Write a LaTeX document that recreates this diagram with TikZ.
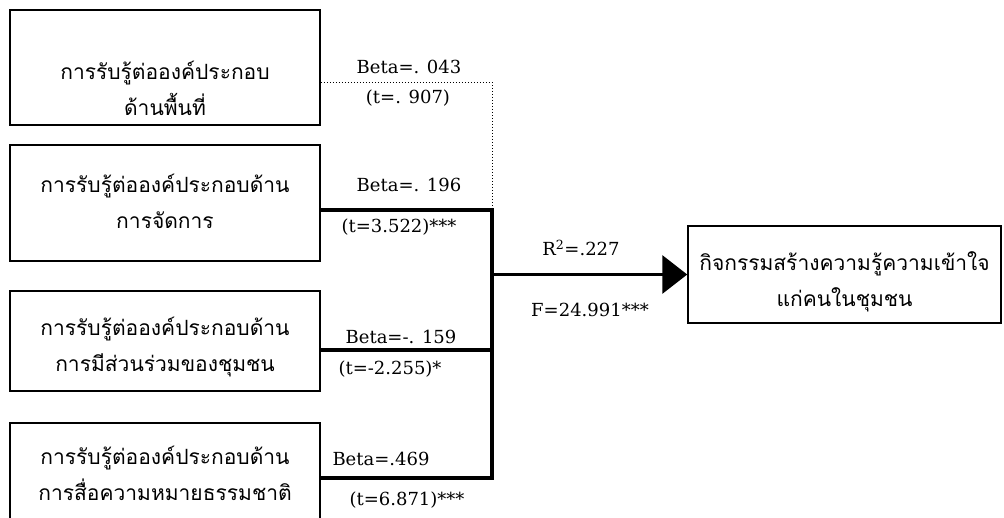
\documentclass[tikz,border=0pt]{standalone}
\usepackage{fontspec}
\newfontfamily\thaifont[Script=Thai]{Loma}
\newfontfamily\statfont{DejaVu Serif}
\usetikzlibrary{arrows.meta}

\begin{document}
\begin{tikzpicture}[x=1pt,y=-1pt,
		factor/.style={draw=black, line width=1.5pt, minimum width=310pt, inner sep=0pt},
		boxtext/.style={align=center, font=\thaifont\fontsize{21}{36}\selectfont},
		stat/.style={font=\statfont\fontsize{18}{22}\selectfont, inner sep=0pt},
		link/.style={line width=3.5pt},
		weak/.style={dotted, line width=1pt}]
	\useasboundingbox (0,0) rectangle (1004,517);
	% factor boxes
	\node[factor, minimum height=115pt] (f1) at (165,67.5) {};
	\node[factor, minimum height=116pt] (f2) at (165,203) {};
	\node[factor, minimum height=100pt] (f3) at (165,341) {};
	\node[factor, minimum height=110pt] (f4) at (165,478) {};
	\node[factor, minimum width=313pt, minimum height=97pt] (act) at (844.5,274.5) {};
	\node[boxtext] (t1) at (165,88) {การรับรู้ต่อองค์ประกอบ\\ด้านพื้นที่};
	\node[boxtext] (t2) at (165,201) {การรับรู้ต่อองค์ประกอบด้าน\\การจัดการ};
	\node[boxtext] (t3) at (165,347) {การรับรู้ต่อองค์ประกอบด้าน\\การมีส่วนร่วมของชุมชน};
	\node[boxtext] (t4) at (165,473) {การรับรู้ต่อองค์ประกอบด้าน\\การสื่อความหมายธรรมชาติ};
	\node[boxtext] (t5) at (844.5,282) {กิจกรรมสร้างความรู้ความเข้าใจ\\แก่คนในชุมชน};
	% bus
	\coordinate (dotcorner) at (492,82);
	\coordinate (bustop) at (492,210);
	\coordinate (busmid) at (492,350);
	\coordinate (busbot) at (492,478);
	\draw[weak] (f1.east |- dotcorner) -- (dotcorner) -- (bustop);
	\draw[link] (f2.east |- bustop) -- (bustop) -- (busbot) -- (f4.east |- busbot);
	\draw[link] (f3.east |- busmid) -- (busmid);
	\draw[link, -{Triangle[length=25pt, width=38pt]}] (bustop |- act.west) -- (act.west);
	% coefficients
	\node[stat] (b1) at (409,67) {Beta=. 043};
	\node[stat] (s1) at (408,98) {(t=. 907)};
	\node[stat] (b2) at (409,185) {Beta=. 196};
	\node[stat] (s2) at (399,227) {(t=3.522)***};
	\node[stat] (b3) at (401,337) {Beta=-. 159};
	\node[stat] (s3) at (390,369) {(t=-2.255)*};
	\node[stat] (b4) at (381,459) {Beta=.469};
	\node[stat] (s4) at (407,500) {(t=6.871)***};
	\node[stat] (r2) at (581,248) {R\textsuperscript{2}=.227};
	\node[stat] (fv) at (590,310) {F=24.991***};
\end{tikzpicture}
\end{document}
